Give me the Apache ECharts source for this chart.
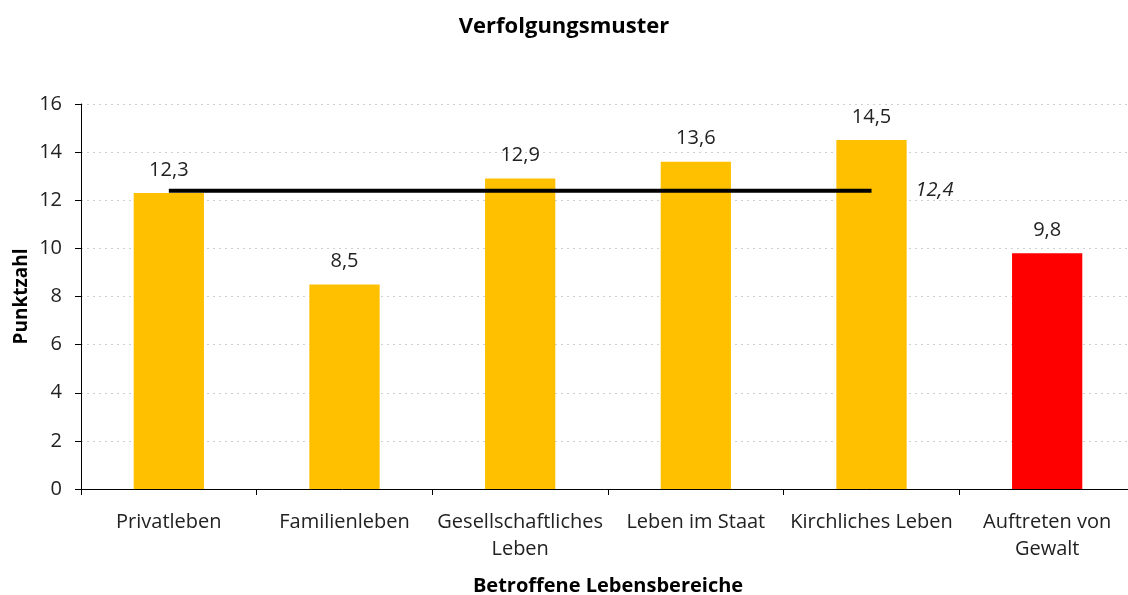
<!DOCTYPE html>
<html><head><meta charset="utf-8">
<script src="https://cdn.jsdelivr.net/npm/echarts@6/dist/echarts.min.js"></script>
<style>html,body{margin:0;padding:0;background:#fff}#c{width:1128px;height:595px}</style>
</head><body><div id="c"></div>
<script>
const categories = ['Privatleben', 'Familienleben', 'Gesellschaftliches\nLeben', 'Leben im Staat', 'Kirchliches Leben', 'Auftreten von\nGewalt'];
const values = [12.3, 8.5, 12.9, 13.6, 14.5, 9.8];
const barColors = ['#FFC000', '#FFC000', '#FFC000', '#FFC000', '#FFC000', '#FF0000'];
const averageLine = [12.4, 12.4, 12.4, 12.4, 12.4, null];
const yTicks = [0, 2, 4, 6, 8, 10, 12, 14, 16];
const FONT = 'Open Sans';
const fmt = v => String(v).replace('.', ',');
const chart = echarts.init(document.getElementById('c'), null, {renderer: 'canvas'});
chart.setOption({
  animation: false,
  backgroundColor: '#fff',
  title: {text: 'Verfolgungsmuster', left: 'center', top: 11,
    textStyle: {fontFamily: FONT, fontWeight: 'bold', fontSize: 22, color: '#000'}},
  grid: {left: 81, width: 1054, top: 104, bottom: 106, containLabel: false, outerBoundsMode: 'none'},
  xAxis: {type: 'category', data: categories,
    name: 'Betroffene Lebensbereiche', nameLocation: 'middle', nameGap: 87,
    nameTextStyle: {fontFamily: FONT, fontWeight: 'bold', fontSize: 20, color: '#000'},
    axisLine: {lineStyle: {color: '#000', width: 1}},
    axisTick: {show: true, alignWithLabel: false, length: 6, lineStyle: {color: '#000'}},
    axisLabel: {fontFamily: FONT, fontSize: 20, color: '#222', margin: 20, lineHeight: 27, interval: 0}},
  yAxis: {type: 'value', min: yTicks[0], max: yTicks[yTicks.length - 1], interval: 2,
    name: 'Punktzahl', nameLocation: 'middle', nameGap: 50, nameRotate: 90, nameMoveOverlap: false,
    nameTextStyle: {fontFamily: FONT, fontWeight: 'bold', fontSize: 19, color: '#000'},
    axisLine: {show: true, lineStyle: {color: '#000', width: 1}},
    axisTick: {show: true, length: 6, lineStyle: {color: '#000'}},
    axisLabel: {fontFamily: FONT, fontSize: 20, color: '#222', margin: 19},
    splitLine: {show: true, lineStyle: {color: '#d0d0d0', type: [2, 4], width: 1}}},
  series: [
    {type: 'bar', data: values.map((v, i) => ({value: v, itemStyle: {color: barColors[i]}})),
     barWidth: '40%',
     label: {show: true, position: 'top', distance: 13, formatter: p => fmt(p.value),
       fontFamily: FONT, fontSize: 20, color: '#222'}},
    {type: 'line', data: averageLine, symbol: 'none', lineStyle: {color: '#000', width: 4},
     z: 5,
     endLabel: {show: true, formatter: p => fmt(p.value), fontFamily: FONT, fontStyle: 'italic',
       fontSize: 20, color: '#222', distance: 44}}
  ]
});
</script></body></html>
